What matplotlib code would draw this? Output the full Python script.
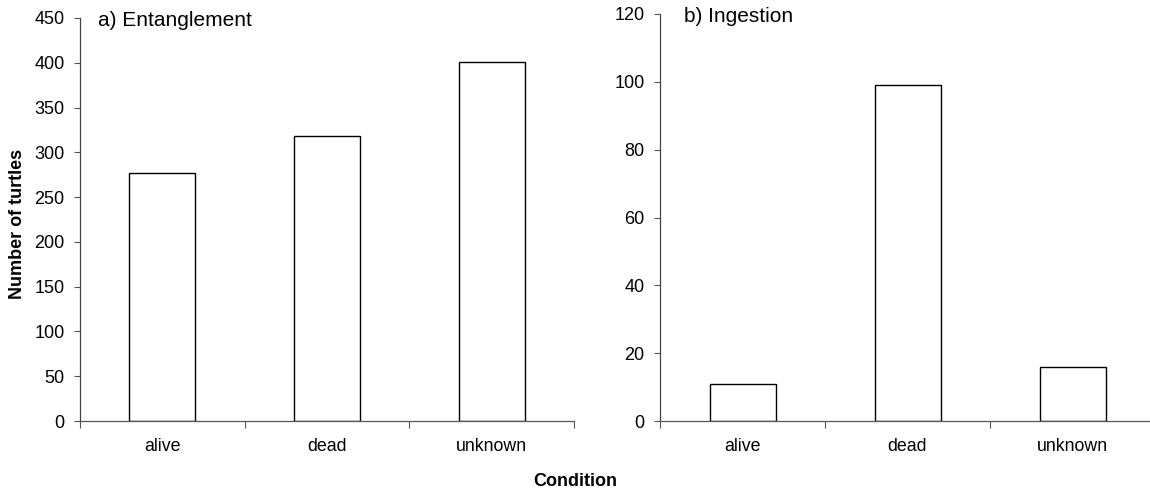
import matplotlib
matplotlib.use("Agg")
import matplotlib.pyplot as plt
import numpy as np

plt.rcParams['font.family'] = ['Liberation Sans', 'DejaVu Sans']

categories = ["alive", "dead", "unknown"]
entanglement = [277, 318, 401]
ingestion = [11, 99, 16]
ent_ticks = [0, 50, 100, 150, 200, 250, 300, 350, 400, 450]
ing_ticks = [0, 20, 40, 60, 80, 100, 120]

W, H = 1150, 497
fig = plt.figure(figsize=(W/100, H/100), dpi=100)

def px_axes(x0, x1, ytop, ybot):
    return fig.add_axes([x0/W, 1 - ybot/H, (x1-x0)/W, (ybot-ytop)/H])

ax1 = px_axes(80, 574, 18, 421)
ax2 = px_axes(660, 1155, 14, 421)

for ax, vals, ticks, title, tx, ty in [
        (ax1, entanglement, ent_ticks, "a) Entanglement", 98, 21),
        (ax2, ingestion, ing_ticks, "b) Ingestion", 684, 17)]:
    x = np.arange(len(categories))
    ax.bar(x, vals, width=0.4, facecolor='white', edgecolor='black', linewidth=1.0)
    ax.set_xlim(-0.5, len(categories) - 0.5)
    ax.set_ylim(ticks[0], ticks[-1])
    ax.set_yticks(ticks)
    ax.tick_params(axis='y', labelsize=13, length=4, width=0.8, color='#555555', pad=7)
    ax.set_xticks(np.arange(len(categories) + 1) - 0.5, minor=False)
    ax.set_xticklabels([])
    ax.set_xticks(x, minor=True)
    ax.set_xticklabels(categories, minor=True)
    ax.tick_params(axis='x', which='major', length=5, width=0.8, color='#555555')
    ax.tick_params(axis='x', which='minor', length=0, labelsize=12.8, pad=12)
    for s in ['top', 'right']:
        ax.spines[s].set_visible(False)
    ax.spines['left'].set_color('#444444')
    ax.spines['bottom'].set_color('#555555')
    ax.spines['left'].set_linewidth(0.9)
    ax.spines['bottom'].set_linewidth(0.9)
    fig.text(tx/W, 1 - ty/H, title, fontsize=15, va='center', ha='left')

fig.text(18/W, 1 - 224/H, "Number of turtles", rotation=90, fontsize=13,
         fontweight='bold', ha='center', va='center')
fig.text(575/W, 1 - 482/H, "Condition", fontsize=13, fontweight='bold',
         ha='center', va='center')

fig.savefig("out.png", dpi=100)
